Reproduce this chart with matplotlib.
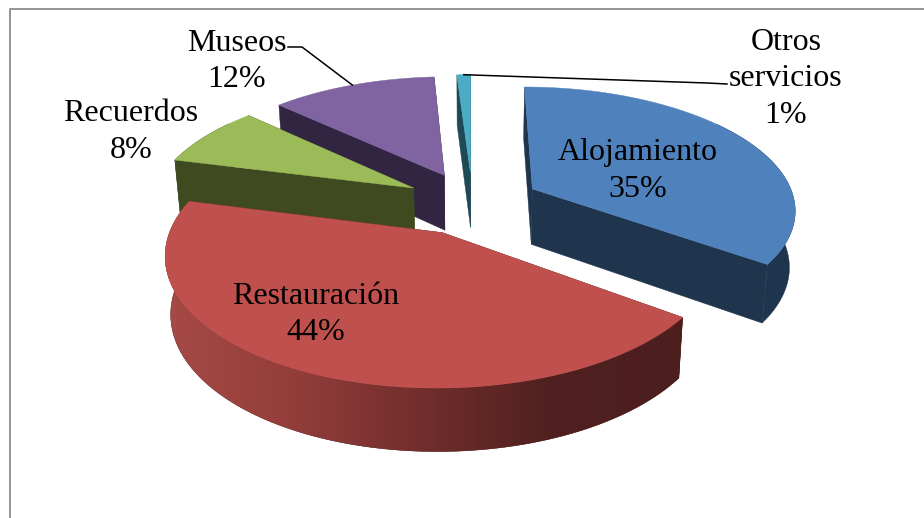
import numpy as np
import matplotlib
matplotlib.use('Agg')
import matplotlib.pyplot as plt
from matplotlib.colors import LinearSegmentedColormap

# datos del grafico
categorias = ['Alojamiento', 'Restauración', 'Recuerdos', 'Museos', 'Otros\nservicios']
valores = [35, 44, 8, 12, 1]

colores_top = ['#4F81BD', '#C0504D', '#9BBB59', '#8064A2', '#4BACC6']
colores_cara = ['#1F344D', '#4E1F1E', '#3F4A21', '#312542', '#1F4A55']

# geometria de la "tarta" 3D, en pixeles de la imagen
cx, cy = 472.5, 203
rx, ry = 263, 121.5
alto = 56
persp = 0.153
fuga = 0.018  # las aristas verticales convergen un poco hacia abajo
explode = 0.26

plt.rcParams['font.family'] = ['Liberation Serif', 'DejaVu Serif']

fig = plt.figure(figsize=(9.24, 5.18), dpi=100)
ax = fig.add_axes([0, 0, 1, 1])
ax.set_xlim(0, 924)
ax.set_ylim(518, 0)
ax.axis('off')

# degradado de la pared de Restauracion
grad = LinearSegmentedColormap.from_list('pared', [
    (0.0, '#A64A46'), (0.25, '#933D3A'), (0.52, '#6E2C2A'), (0.75, '#4F201F'), (1.0, '#4C1E1D')])


def proyecta(x, y, z=0.0):
    s = 1 / (1 + persp * y)
    return cx + rx * x * s * (1 - fuga * z), cy - ry * y * s + alto * z * s ** 0.6


def dibuja_porcion(i, a0, a1):
    med = (a0 + a1) / 2
    ox, oy = explode * np.sin(med), explode * np.cos(med)
    orden = i_orden[i]

    # caras radiales
    for a in [a0, a1]:
        ex, ey = ox + np.sin(a), oy + np.cos(a)
        p = [proyecta(ox, oy), proyecta(ex, ey), proyecta(ex, ey, 1), proyecta(ox, oy, 1)]
        ax.fill(*zip(*p), color=colores_cara[i], lw=0.3, zorder=orden)

    # pared exterior: solo el tramo que mira al observador
    angs = np.linspace(a0, a1, 200)
    angs = angs[np.cos(angs) < 0.6]
    if len(angs) > 1:
        xs, ys = ox + np.sin(angs), oy + np.cos(angs)
        px, py = proyecta(xs, ys)
        qx, qy = proyecta(xs, ys, 1)
        parche = ax.fill(np.r_[px, qx[::-1]], np.r_[py, qy[::-1]],
                         color=colores_cara[i], lw=0.3, zorder=orden)[0]
        if i == 1:
            img = ax.imshow(np.linspace(0, 1, 256)[None, :], cmap=grad, aspect='auto',
                            extent=(px.min(), px.max(), qy.max(), py.min()),
                            zorder=orden + 0.1, interpolation='bilinear')
            img.set_clip_path(parche)

    # tapa
    angs = np.linspace(a0, a1, 200)
    px, py = proyecta(ox + np.sin(angs), oy + np.cos(angs))
    ax0, ay0 = proyecta(ox, oy)
    ax.fill(np.r_[ax0, px], np.r_[ay0, py], color=colores_top[i], lw=0.3, zorder=orden + 0.5)
    return proyecta(ox + np.sin(med), oy + np.cos(med))


# orden de pintado de atras hacia delante
i_orden = {0: 3, 4: 4, 3: 5, 2: 6, 1: 7}

cortes = np.r_[0, np.cumsum(valores)] / np.sum(valores) * 2 * np.pi
borde = {}
for i in range(len(valores)):
    borde[i] = dibuja_porcion(i, cortes[i], cortes[i + 1])

ax.set_xlim(0, 924)
ax.set_ylim(518, 0)

# marco gris, solo arriba e izquierda
ax.plot([9.5, 9.5, 924], [518, 8.5, 8.5], color='#8C8C8C', lw=1.3, zorder=1)

# lineas guia
ax.plot([288, 302, borde[3][0]], [47, 47, borde[3][1]], color='black', lw=1.1, zorder=12)
ax.plot([727, 707, borde[4][0]], [84, 83, borde[4][1]], color='black', lw=1.1, zorder=12)

# etiquetas
pos_etiquetas = [(638, 171), (316, 314.5), (131, 132), (237, 61.5), (786, 79)]
for nombre, v, (tx, ty) in zip(categorias, valores, pos_etiquetas):
    ax.text(tx, ty, f'{nombre}\n{v}%', ha='center', va='center', fontsize=23,
            linespacing=1.36, color='black', zorder=15)

fig.savefig('out.png', dpi=100)
